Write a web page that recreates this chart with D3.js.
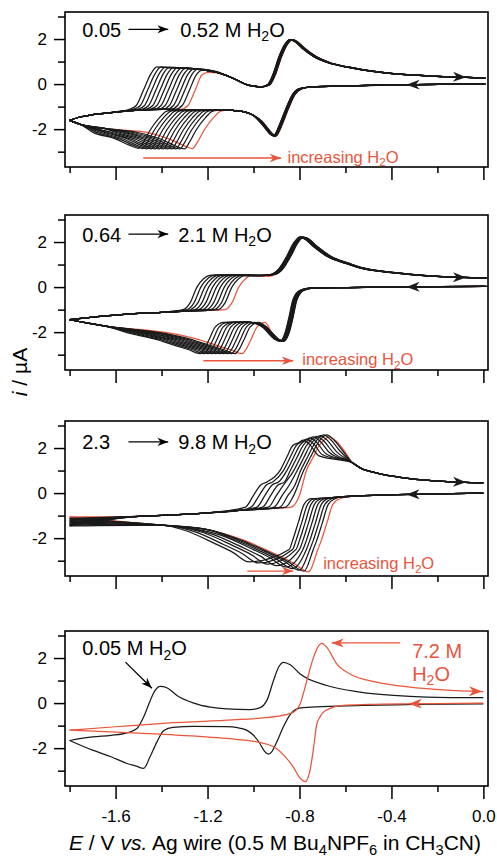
<!DOCTYPE html>
<html>
<head>
<meta charset="utf-8">
<script src="https://cdn.jsdelivr.net/npm/d3@7"></script>
<style>
  body { margin: 0; background: #fff; }
  svg { display: block; }
</style>
</head>
<body>
<div id="chart"></div>
<script>
// ---- axes ----
const xMajorTicks = [-1.6, -1.2, -0.8, -0.4, 0.0];
const xMinorTicks = [-1.8, -1.4, -1.0, -0.6, -0.2];
const yMajorTicks = [-2, 0, 2];
const yMinorTicks = [-3, -1, 1, 3];

// ---- panel 1 : 0.05 -> 0.52 M H2O (12 black traces, the last one is red) ----
const p1Epc = [-1.50, -1.482, -1.464, -1.446, -1.428, -1.41, -1.392, -1.374, -1.356, -1.338, -1.32, -1.30, -1.265];
const p1Ipc = [-2.85, -2.86, -2.87, -2.87, -2.88, -2.88, -2.88, -2.88, -2.88, -2.88, -2.88, -2.88, -2.86];
const p1Epa = [-1.42, -1.402, -1.384, -1.366, -1.348, -1.33, -1.312, -1.294, -1.276, -1.258, -1.24, -1.22, -1.195];
const p1Ipa = [0.76, 0.76, 0.75, 0.75, 0.74, 0.73, 0.72, 0.71, 0.70, 0.68, 0.66, 0.62, 0.52];
const p1Shift = [0, 0.001, 0.002, 0.003, 0.004, 0.005, 0.006, 0.007, 0.008, 0.009, 0.010, 0.011, 0.012];
const p1LowerRight = [[0.0, 0.01], [-0.2, -0.01], [-0.4, -0.04], [-0.6, -0.08], [-0.75, -0.12], [-0.8, -0.2],
  [-0.83, -0.45], [-0.86, -1.1], [-0.885, -1.75], [-0.902, -2.15], [-0.913, -2.3], [-0.93, -2.2], [-0.95, -1.95],
  [-0.975, -1.65], [-1.005, -1.36], [-1.05, -1.21], [-1.09, -1.17], [-1.15, -1.15], [-1.25, -1.14], [-1.35, -1.13]];
const p1Drop = [[0.15, -1.16], [0.123, -1.2], [0.09, -1.5], [0.05, -2.05], [0.02, -2.6]];
const p1Tail = [[-0.04, 0.14], [-0.1, 0.42], [-0.2, 0.72]];
const p1LowerLeft = [[-1.65, -1.97], [-1.75, -1.8], [-1.8, -1.61]];
const p1UpperLeft = [[-1.8, -1.61], [-1.75, -1.45], [-1.7, -1.36], [-1.6, -1.24], [-1.5, -1.16], [-1.4, -1.11], [-1.3, -1.08], [-1.2, -1.06]];
const p1Rise = [[-0.12, -1.12], [-0.09, -0.95], [-0.058, -0.25], [-0.029, 0.41]];
const p1After = [[0.05, -0.04]];
const p1UpperRight = [[-1.3, 0.72], [-1.25, 0.67], [-1.2, 0.6], [-1.145, 0.48], [-1.087, 0.25], [-1.03, -0.02],
  [-0.97, -0.12], [-0.94, -0.03], [-0.915, 0.45], [-0.89, 1.2], [-0.865, 1.75], [-0.842, 1.97], [-0.82, 1.88],
  [-0.79, 1.6], [-0.74, 1.23], [-0.68, 0.96], [-0.6, 0.76], [-0.536, 0.64], [-0.4, 0.47], [-0.25, 0.37], [-0.1, 0.31], [0.0, 0.27]];

// ---- panel 2 : 0.64 -> 2.1 M H2O ----
const p2Epc = [-1.232, -1.215, -1.198, -1.181, -1.164, -1.147, -1.13, -1.113, -1.096, -1.08, -1.05];
const p2Ipc = [-2.95, -2.95, -2.95, -2.95, -2.95, -2.95, -2.95, -2.95, -2.95, -2.95, -2.95];
const p2Epa = [-1.166, -1.149, -1.132, -1.115, -1.098, -1.081, -1.064, -1.047, -1.03, -1.014, -0.984];
const p2Ipa = [0.54, 0.54, 0.54, 0.54, 0.54, 0.54, 0.54, 0.54, 0.54, 0.54, 0.50];
const p2Shift = [0, 0.002, 0.004, 0.006, 0.008, 0.01, 0.012, 0.014, 0.016, 0.018, 0.016];
const p2LowerRight = [[0.0, 0.03], [-0.2, 0.02], [-0.4, 0.0], [-0.6, -0.02], [-0.76, -0.05], [-0.8, -0.15], [-0.83, -0.6],
  [-0.845, -1.3], [-0.862, -2.0], [-0.884, -2.4], [-0.91, -2.3], [-0.935, -2.05], [-0.96, -1.78], [-0.99, -1.62],
  [-1.03, -1.56], [-1.08, -1.55], [-1.15, -1.55], [-1.25, -1.55]];
const p2Drop = [[0.1, -1.57], [0.065, -1.78], [0.04, -2.3], [0.015, -2.8]];
const p2Tail = [[-0.05, 0.17], [-0.1, 0.33], [-0.2, 0.65], [-0.3, 0.88]];
const p2LowerLeft = [[-1.65, -1.72], [-1.72, -1.6], [-1.8, -1.45]];
const p2UpperLeft = [[-1.8, -1.45], [-1.7, -1.33], [-1.6, -1.24], [-1.5, -1.17], [-1.4, -1.12], [-1.3, -1.07], [-1.2, -1.03], [-1.1, -1.0], [-1.0, -0.97]];
const p2Rise = [[-0.14, -1.0], [-0.11, -0.7], [-0.08, 0.0], [-0.05, 0.38], [-0.025, 0.52]];
const p2After = [[0.05, -0.02]];
const p2UpperRight = [[-1.05, 0.52], [-1.0, 0.51], [-0.95, 0.52], [-0.92, 0.58], [-0.9, 0.7], [-0.877, 1.0], [-0.855, 1.38],
  [-0.826, 1.95], [-0.8, 2.22], [-0.78, 2.15], [-0.74, 1.8], [-0.68, 1.36], [-0.6, 1.05], [-0.536, 0.84], [-0.4, 0.64],
  [-0.25, 0.5], [-0.1, 0.43], [0.0, 0.4]];

// ---- panel 3 : 2.3 -> 9.8 M H2O (8 black traces, last one red) ----
const p3E1a = [-1.0, -0.975, -0.95, -0.925, -0.9, -0.875, -0.85, -0.825, -0.80];
const p3E2a = [-0.855, -0.84, -0.825, -0.81, -0.795, -0.78, -0.765, -0.752, -0.74];
const p3Ipa = [2.35, 2.4, 2.45, 2.5, 2.52, 2.55, 2.58, 2.58, 2.5];
const p3E2c = [-0.815, -0.80, -0.785, -0.77, -0.755, -0.74, -0.725, -0.71, -0.69];
const p3Eb = [-1.02, -0.98, -0.94, -0.90, -0.86, -0.83, -0.80, -0.78, -0.76];
const p3Ib = [-3.05, -3.1, -3.15, -3.22, -3.28, -3.35, -3.42, -3.46, -3.5];
const p3Iv = [-1.46, -1.42, -1.38, -1.33, -1.28, -1.22, -1.16, -1.12, -1.06];
const p3LowerRight = [[0.0, 0.0], [-0.2, -0.03], [-0.32, -0.06], [-0.45, -0.09], [-0.55, -0.12], [-0.62, -0.17], [-0.68, -0.22]];
const p3Drop = [[0.065, -0.25], [0.035, -0.5], [0.01, -1.3], [-0.015, -2.1], [-0.03, -2.5]];
const p3Tail = [[-0.07, 0.42], [-0.15, 0.82], [-0.28, 1.4]];
const p3LowerLeft = [[-1.2, -1.62], [-1.4, -1.42]];
const p3UpperLeft = [[-1.5, -1.03], [-1.4, -0.99], [-1.2, -0.88], [-1.05, -0.76], [-0.95, -0.7], [-0.85, -0.65]];
const p3Shoulder = [[-0.035, -0.62], [0, -0.1], [0.03, 0.35], [0.06, 0.5], [0.1, 0.58], [0.14, 0.65]];
const p3Rise = [[-0.03, 1.0], [0, 1.6], [0.025, 2.1]];
const p3Peak = [[0.05, -0.12], [0.07, 0], [0.1, -0.2], [0.14, -0.7]];
const p3UpperRight = [[-0.57, 1.35], [-0.536, 1.12], [-0.464, 0.89], [-0.4, 0.76], [-0.32, 0.64], [-0.174, 0.52], [0.0, 0.45]];

// ---- panel 4 : 0.05 M (black) and 7.2 M (red) ----
const p4BlackLower = [[0.0, -0.03], [-0.3, -0.06], [-0.6, -0.12], [-0.75, -0.18], [-0.8, -0.22], [-0.84, -0.5], [-0.87, -1.05],
  [-0.9, -1.75], [-0.92, -2.15], [-0.935, -2.26], [-0.955, -2.1], [-0.975, -1.75], [-1.0, -1.43], [-1.03, -1.2], [-1.07, -1.09],
  [-1.12, -1.05], [-1.26, -1.03], [-1.35, -1.08], [-1.39, -1.22], [-1.42, -1.72], [-1.45, -2.38], [-1.478, -2.9], [-1.51, -2.8],
  [-1.55, -2.68], [-1.62, -2.38], [-1.7, -2.09], [-1.8, -1.66]];
const p4BlackUpper = [[-1.8, -1.66], [-1.7, -1.5], [-1.62, -1.43], [-1.55, -1.32], [-1.507, -1.13], [-1.478, -0.62], [-1.449, 0.12],
  [-1.428, 0.56], [-1.406, 0.74], [-1.377, 0.68], [-1.333, 0.34], [-1.26, 0.0], [-1.188, -0.18], [-1.116, -0.26], [-1.014, -0.29],
  [-0.971, -0.2], [-0.942, 0.12], [-0.913, 1.0], [-0.891, 1.59], [-0.87, 1.81], [-0.84, 1.7], [-0.797, 1.29], [-0.681, 0.78],
  [-0.536, 0.49], [-0.39, 0.34], [-0.246, 0.27], [0.0, 0.24]];
const p4RedLower = [[0.0, 0.0], [-0.3, -0.03], [-0.5, -0.06], [-0.61, -0.1], [-0.69, -0.35], [-0.71, -0.6], [-0.725, -0.95],
  [-0.739, -2.0], [-0.754, -2.97], [-0.775, -3.49], [-0.8, -3.3], [-0.826, -2.85], [-0.87, -2.3], [-0.9, -2.02], [-0.971, -1.75],
  [-1.116, -1.57], [-1.406, -1.38], [-1.696, -1.24], [-1.8, -1.2]];
const p4RedUpper = [[-1.8, -1.2], [-1.6, -1.05], [-1.406, -0.91], [-1.116, -0.76], [-0.9, -0.59], [-0.826, -0.4], [-0.797, -0.03],
  [-0.768, 1.0], [-0.739, 2.03], [-0.717, 2.54], [-0.703, 2.65], [-0.681, 2.47], [-0.638, 1.74], [-0.58, 1.29], [-0.464, 0.93],
  [-0.319, 0.71], [-0.174, 0.59], [0.0, 0.51]];

// ---- layout ----
const W = 497, H = 859;
const panelTop = [12, 215, 421, 631];
const panelH = 155;
const red = "#e8553b", ink = "#1a1a1a";
const font = "'Liberation Sans', Arial, Helvetica, sans-serif";

const svg = d3.select("#chart").append("svg")
  .attr("width", W).attr("height", H)
  .style("font-family", font);

const x = d3.scaleLinear().domain([-1.82, 0.02]).range([65, 488]);
const y = d3.scaleLinear().domain([-3.68, 3.2]).range([panelH, 0]);
const line = d3.line().x(d => x(d[0])).y(d => y(d[1])).curve(d3.curveMonotoneX);

svg.append("defs").append("clipPath").attr("id", "plot")
  .append("rect").attr("x", x.range()[0]).attr("y", 0)
  .attr("width", x.range()[1] - x.range()[0]).attr("height", panelH);

// sort by potential and drop near-duplicate points
function clean(pts) {
  const s = pts.slice().sort((a, b) => a[0] - b[0]);
  return s.filter((d, i) => i === 0 || d[0] - s[i - 1][0] > 0.004);
}

// traces of panels 1 and 2: first wave moves, second wave stays
function buildCV(p, k) {
  const epc = p.epc[k], ipc = p.ipc[k], epa = p.epa[k], ipa = p.ipa[k], s = p.shift[k];
  const move = d => d[0] > -1.0 ? [d[0] + s, d[1]] : d;
  const drop = p.drop.map(d => [epc + d[0], d[1]]);
  const tail = p.tail.map(d => [epc + d[0], ipc + d[1]]).filter(d => d[0] > -1.78);
  const tailEnd = tail[tail.length - 1][0];
  const lower = p.lowerRight.map(move).filter(d => d[0] > drop[0][0] + 0.01)
    .concat(drop, [[epc, ipc]], tail, p.lowerLeft.filter(d => d[0] < tailEnd - 0.04));
  const rise = p.rise.map(d => [epa + d[0], d[1]]);
  const after = p.after.map(d => [epa + d[0], ipa + d[1]]);
  const upper = p.upperLeft.filter(d => d[0] < rise[0][0] - 0.02)
    .concat(rise, [[epa, ipa]], after,
      p.upperRight.map(move).filter(d => d[0] > after[after.length - 1][0] + 0.04));
  return { lower: clean(lower), upper: clean(upper) };
}

// traces of panel 3: both waves move and merge
function buildP3(k) {
  const e1 = p3E1a[k], e2 = p3E2a[k], ip = p3Ipa[k], ec = p3E2c[k], eb = p3Eb[k], ib = p3Ib[k], iv = p3Iv[k];
  const lower = p3LowerRight.filter(d => d[0] > ec + 0.075)
    .concat(p3Drop.map(d => [ec + d[0], d[1]]), [[eb, ib]],
      p3Tail.map(d => [eb + d[0], ib + d[1]]),
      p3LowerLeft.filter(d => d[0] < eb - 0.36), [[-1.8, iv]]);
  const upper = [[-1.8, iv]]
    .concat(p3UpperLeft.filter(d => d[0] < e1 - 0.05),
      p3Shoulder.map(d => [e1 + d[0], d[1]]).filter(d => d[0] < e2 - 0.045),
      p3Rise.map(d => [e2 + d[0], d[1]]),
      p3Peak.map(d => [e2 + d[0], ip + d[1]]).filter(d => d[0] < -0.595),
      p3UpperRight);
  return { lower: clean(lower), upper: clean(upper) };
}

function valueAt(pts, e) {
  const i = d3.bisector(d => d[0]).left(pts, e);
  const a = pts[Math.max(0, i - 1)], b = pts[Math.min(pts.length - 1, i)];
  const t = b[0] === a[0] ? 0 : (e - a[0]) / (b[0] - a[0]);
  return a[1] + t * (b[1] - a[1]);
}

function arrowHead(g, px, py, angle, color, size = 1) {
  g.append("path")
    .attr("d", `M0,0L${-12 * size},${-4.5 * size}L${-8.5 * size},0L${-12 * size},${4.5 * size}Z`)
    .attr("transform", `translate(${px},${py}) rotate(${angle})`)
    .attr("fill", color);
}

function arrowLine(g, x1, y1, x2, y2, color, size = 1) {
  g.append("line").attr("x1", x1).attr("y1", y1).attr("x2", x2).attr("y2", y2)
    .attr("stroke", color).attr("stroke-width", 1.3);
  arrowHead(g, x2, y2, Math.atan2(y2 - y1, x2 - x1) * 180 / Math.PI, color, size);
}

// arrowhead sitting on a branch
function branchArrow(g, pts, e, dir, color) {
  const e1 = e - 0.02, e2 = e + 0.02;
  const ang = Math.atan2(y(valueAt(pts, e2)) - y(valueAt(pts, e1)), x(e2) - x(e1)) * 180 / Math.PI;
  arrowHead(g, x(e), y(valueAt(pts, e)), dir > 0 ? ang : ang + 180, color, 1.1);
}

// text with italic and subscript pieces
function richText(sel, parts, fs) {
  parts.forEach(p => {
    const t = sel.append("tspan").text(p.t);
    if (p.i) t.attr("font-style", "italic");
    if (p.sub) t.attr("font-size", fs * 0.7).attr("dy", fs * 0.22);
    if (p.back) t.attr("dy", -fs * 0.22);
  });
  return sel;
}
const h2o = [{ t: "H" }, { t: "2", sub: true }, { t: "O", back: true }];

const panels = svg.selectAll("g.panel").data([0, 1, 2, 3]).enter().append("g")
  .attr("class", "panel")
  .attr("transform", d => `translate(0,${panelTop[d]})`);

panels.each(function (p) {
  const g = d3.select(this);

  // curves
  const plot = g.append("g").attr("clip-path", "url(#plot)")
    .attr("fill", "none").attr("stroke-linejoin", "round");
  let traces = [];
  if (p === 0 || p === 1) {
    const spec = p === 0
      ? { epc: p1Epc, ipc: p1Ipc, epa: p1Epa, ipa: p1Ipa, shift: p1Shift, lowerRight: p1LowerRight, drop: p1Drop,
          tail: p1Tail, lowerLeft: p1LowerLeft, upperLeft: p1UpperLeft, rise: p1Rise, after: p1After, upperRight: p1UpperRight }
      : { epc: p2Epc, ipc: p2Ipc, epa: p2Epa, ipa: p2Ipa, shift: p2Shift, lowerRight: p2LowerRight, drop: p2Drop,
          tail: p2Tail, lowerLeft: p2LowerLeft, upperLeft: p2UpperLeft, rise: p2Rise, after: p2After, upperRight: p2UpperRight };
    traces = spec.epc.map((_, k) => buildCV(spec, k));
  } else if (p === 2) {
    traces = p3E1a.map((_, k) => buildP3(k));
  } else {
    traces = [{ lower: clean(p4BlackLower), upper: clean(p4BlackUpper) },
              { lower: clean(p4RedLower), upper: clean(p4RedUpper) }];
  }
  const last = traces.length - 1;
  const order = p === 3 ? d3.range(traces.length) : [last].concat(d3.range(last));
  order.forEach(k => {
    const c = k === last ? red : ink;
    [traces[k].lower, traces[k].upper].forEach(b => {
      plot.append("path").attr("d", line(b)).attr("stroke", c).attr("stroke-width", 1.25);
    });
  });

  // sweep-direction arrows
  if (p < 3) {
    branchArrow(g, traces[0].upper, -0.075, 1, ink);
    branchArrow(g, traces[0].lower, -0.335, -1, ink);
  } else {
    branchArrow(g, traces[1].upper, -0.005, 1, red);
    branchArrow(g, traces[1].lower, -0.325, -1, red);
  }

  // frame
  g.append("rect")
    .attr("x", x.range()[0]).attr("y", 0)
    .attr("width", x.range()[1] - x.range()[0]).attr("height", panelH)
    .attr("fill", "none").attr("stroke", "#000").attr("stroke-width", 1.6);

  // y axis
  const yMaj = g.append("g").attr("transform", `translate(${x.range()[0]},0)`)
    .call(d3.axisLeft(y).tickValues(yMajorTicks).tickSize(11).tickPadding(7).tickFormat(d => String(d)));
  const yMin = g.append("g").attr("transform", `translate(${x.range()[0]},0)`)
    .call(d3.axisLeft(y).tickValues(yMinorTicks).tickSize(7).tickFormat(() => ""));

  // x axis
  const xMaj = g.append("g").attr("transform", `translate(0,${panelH})`)
    .call(d3.axisBottom(x).tickValues(xMajorTicks).tickSize(13).tickPadding(11)
      .tickFormat(d => p === 3 ? d.toFixed(1) : ""));
  const xMin = g.append("g").attr("transform", `translate(0,${panelH})`)
    .call(d3.axisBottom(x).tickValues(xMinorTicks).tickSize(6).tickFormat(() => ""));

  [yMaj, yMin, xMaj, xMin].forEach(a => {
    a.select(".domain").remove();
    a.attr("font-family", font).attr("font-size", 17);
    a.selectAll("line").attr("stroke", "#000").attr("stroke-width", 1.5);
    a.selectAll("text").attr("fill", "#000");
  });
});

// ---- annotations ----
const titleFrom = ["0.05", "0.64", "2.3"];
const titleTo = ["0.52", "2.1", "9.8"];
const titleI = [2.10, 2.02, 1.94];
const incArrow = [[-1.48, -0.88, -3.28], [-1.218, -0.827, -3.27], [-1.027, -0.827, -3.46]];
const incText = [[-0.852, -3.49], [-0.788, -3.46], [-0.697, -3.37]];

panels.filter(p => p < 3).each(function (p) {
  const g = d3.select(this);
  const by = y(titleI[p]);
  g.append("text").attr("x", x(-1.745)).attr("y", by).attr("font-size", 20).text(titleFrom[p]);
  arrowLine(g, x(-1.544), by - 7.5, x(-1.371), by - 7.5, "#000", 0.9);
  richText(g.append("text").attr("x", x(p === 0 ? -1.319 : -1.327)).attr("y", by).attr("font-size", 20),
    [{ t: titleTo[p] + " M " }].concat(h2o), 20);

  const a = incArrow[p];
  arrowLine(g, x(a[0]), y(a[2]), x(a[1]), y(a[2]), red, 0.95);
  richText(g.append("text").attr("x", x(incText[p][0])).attr("y", y(incText[p][1]))
    .attr("font-size", 16.5).attr("fill", red), [{ t: "increasing " }].concat(h2o), 16.5);
});

panels.filter(p => p === 3).each(function () {
  const g = d3.select(this);
  richText(g.append("text").attr("x", x(-1.745)).attr("y", y(2.13)).attr("font-size", 20),
    [{ t: "0.05 M " }].concat(h2o), 20);
  arrowLine(g, x(-1.557), y(1.82), x(-1.442), y(0.66), "#000", 0.9);
  arrowLine(g, x(-0.362), y(2.67), x(-0.66), y(2.67), red, 1.0);
  g.append("text").attr("x", x(-0.31)).attr("y", y(2.0)).attr("font-size", 20).attr("fill", red).text("7.2 M");
  richText(g.append("text").attr("x", x(-0.31)).attr("y", y(0.98)).attr("font-size", 20).attr("fill", red), h2o, 20);
});

// axis titles
richText(svg.append("text")
  .attr("transform", "translate(27,372) rotate(-90)")
  .attr("text-anchor", "middle").attr("font-size", 21),
  [{ t: "i", i: true }, { t: " / µA" }], 21);

richText(svg.append("text")
  .attr("x", 275).attr("y", 850)
  .attr("text-anchor", "middle").attr("font-size", 21),
  [{ t: "E", i: true }, { t: " / V " }, { t: "vs.", i: true }, { t: " Ag wire (0.5 M Bu" },
   { t: "4", sub: true }, { t: "NPF", back: true }, { t: "6", sub: true }, { t: " in CH", back: true },
   { t: "3", sub: true }, { t: "CN)", back: true }], 21);
</script>
</body>
</html>
